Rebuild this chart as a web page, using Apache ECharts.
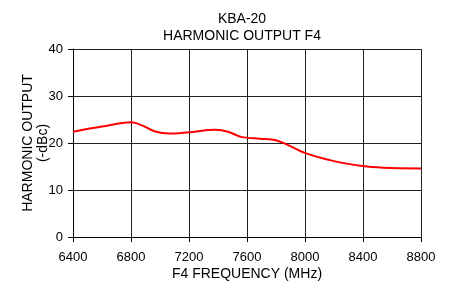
<!DOCTYPE html>
<html>
<head>
<meta charset="utf-8">
<script src="https://cdn.jsdelivr.net/npm/echarts@6/dist/echarts.min.js"></script>
<style>html,body{margin:0;padding:0;background:#fff}#c{width:451px;height:286px}</style>
</head>
<body>
<div id="c"></div>
<script>
const freqMHz = [6400, 6600, 6800, 6880, 6960, 7067, 7200, 7380, 7470, 7560, 7688, 7800, 7880, 7998, 8193, 8396, 8538, 8800];
const harmonicDbc = [22.4, 23.5, 24.4, 23.7, 22.5, 22.0, 22.3, 22.8, 22.4, 21.3, 20.9, 20.6, 19.6, 17.9, 16.2, 15.1, 14.75, 14.6];
const xTicks = [6400, 6800, 7200, 7600, 8000, 8400, 8800];
const yTicks = [0, 10, 20, 30, 40];

const chart = echarts.init(document.getElementById('c'), null, {renderer: 'canvas'});
const font = 'Liberation Sans, Arial, sans-serif';
chart.setOption({
  animation: false,
  backgroundColor: '#fff',
  title: {
    text: 'KBA-20\nHARMONIC OUTPUT F4',
    left: 237, top: 6, textAlign: 'center',
    textStyle: {fontFamily: font, fontSize: 14, fontWeight: 'normal', color: '#000', lineHeight: 16.5}
  },
  grid: {left: 73, right: 30, top: 49, bottom: 49, containLabel: false},
  xAxis: {
    type: 'value', min: xTicks[0], max: xTicks[xTicks.length - 1], interval: 400,
    name: 'F4 FREQUENCY (MHz)', nameLocation: 'middle', nameGap: 30,
    nameMoveOverlap: false,
    nameTextStyle: {fontFamily: font, fontSize: 14, color: '#000'},
    axisLine: {show: true, lineStyle: {color: '#000', width: 1}},
    axisTick: {show: true, length: 5, lineStyle: {color: '#000'}},
    axisLabel: {fontFamily: font, fontSize: 13, color: '#000', margin: 14, formatter: v => String(v)},
    splitLine: {show: true, lineStyle: {color: '#222', width: 1}}
  },
  yAxis: {
    type: 'value', min: yTicks[0], max: yTicks[yTicks.length - 1], interval: 10,
    name: 'HARMONIC OUTPUT\n(-dBc)', nameLocation: 'middle', nameRotate: 90, nameGap: 22,
    nameMoveOverlap: false,
    nameTextStyle: {fontFamily: font, fontSize: 14, color: '#000', lineHeight: 15},
    axisLine: {show: true, lineStyle: {color: '#000', width: 1}},
    axisTick: {show: true, length: 5, lineStyle: {color: '#000'}},
    axisLabel: {fontFamily: font, fontSize: 13, color: '#000', margin: 10},
    splitLine: {show: true, lineStyle: {color: '#222', width: 1}}
  },
  series: [{
    type: 'line',
    data: freqMHz.map((f, i) => [f, harmonicDbc[i]]),
    smooth: 0.35,
    symbol: 'none',
    lineStyle: {color: '#ff0000', width: 2}
  }]
});
</script>
</body>
</html>
